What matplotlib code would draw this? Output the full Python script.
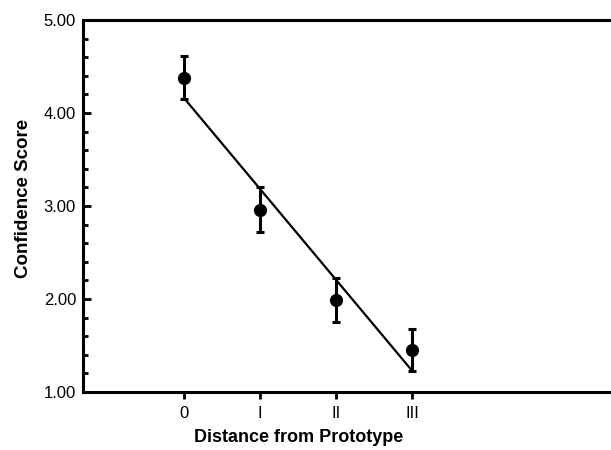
import numpy as np
import matplotlib
matplotlib.use("Agg")
import matplotlib.pyplot as plt
import matplotlib.ticker as mticker

plt.rcParams['font.family'] = ['Liberation Sans', 'DejaVu Sans']

# ─── data ─────────────────────────────────────────
categories = ['0', 'I', 'II', 'III']
mean_score = [4.38, 2.96, 1.99, 1.45]
err_score = [0.23, 0.24, 0.24, 0.23]
fit_x = [0, 3]
fit_y = [4.16, 1.23]

# ─── chart ────────────────────────────────────────
fig = plt.figure(figsize=(6.11, 4.5), dpi=100)
ax = fig.add_axes([0.1358, 0.129, 0.8642, 0.8267])

xpos = np.arange(len(categories))
ax.plot(fit_x, fit_y, color='black', linewidth=1.6, zorder=2)
ax.errorbar(xpos, mean_score, yerr=err_score, fmt='o', color='black',
            markersize=8.5, elinewidth=2.2, capsize=3, capthick=2.2, zorder=3)

ax.set_xlim(-1.33, 5.62)
ax.set_ylim(1.0, 5.0)
ax.set_xticks(xpos)
ax.set_xticklabels(categories)
ax.yaxis.set_major_locator(mticker.MultipleLocator(1.0))
ax.yaxis.set_minor_locator(mticker.MultipleLocator(0.2))
ax.yaxis.set_major_formatter(mticker.FormatStrFormatter('%.2f'))

for side in ['left', 'bottom', 'top']:
    ax.spines[side].set_linewidth(2.2)
ax.spines['right'].set_visible(False)

ax.tick_params(axis='y', which='major', direction='in', length=6, width=2,
               labelsize=12, pad=5)
ax.tick_params(axis='y', which='minor', direction='in', length=3.5, width=2)
ax.tick_params(axis='x', which='major', direction='out', length=5, width=2,
               labelsize=12, pad=5)

ax.set_xlabel('Distance from Prototype', fontsize=13, fontweight='bold', labelpad=5)
ax.xaxis.set_label_coords(0.409, -0.1)
ax.set_ylabel('Confidence Score', fontsize=13.5, fontweight='bold')
ax.yaxis.set_label_coords(-0.097, 0.519)

fig.savefig('out.png', dpi=100, facecolor='white')
